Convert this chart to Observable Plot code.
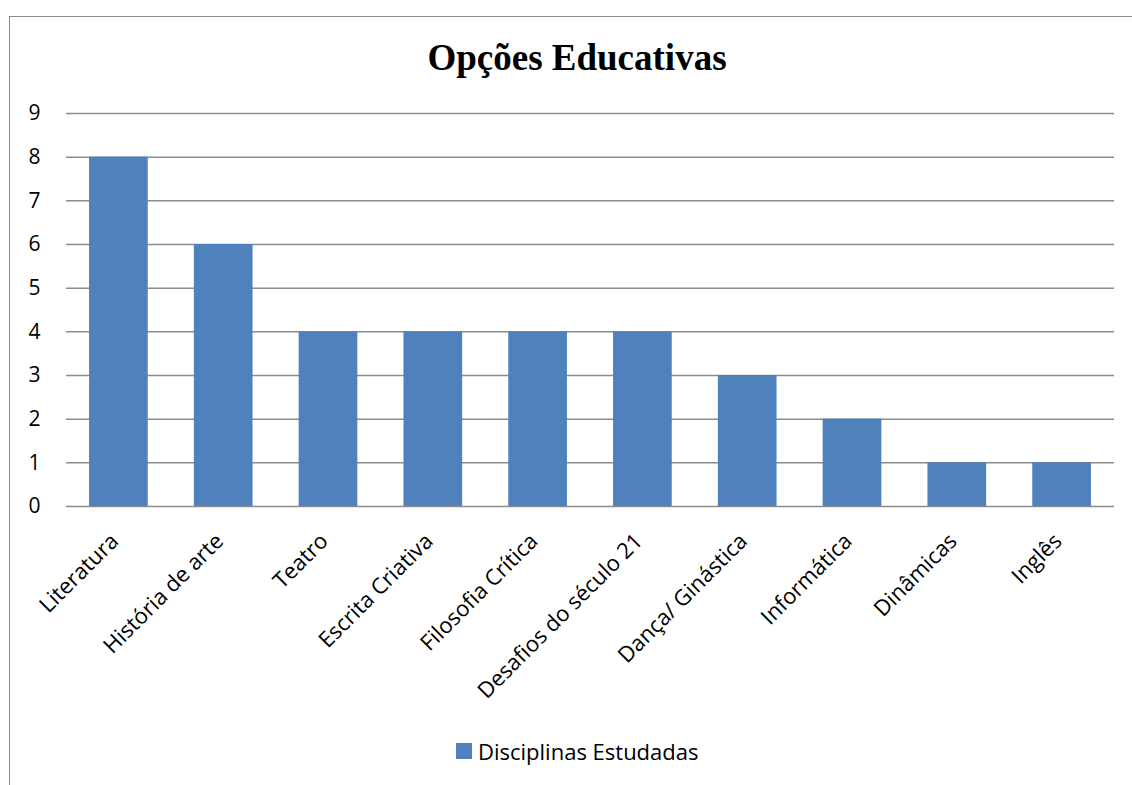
<!DOCTYPE html>
<html>
<head>
<meta charset="utf-8">
<script src="https://cdn.jsdelivr.net/npm/d3@7"></script>
<script src="https://cdn.jsdelivr.net/npm/@observablehq/plot@0.6"></script>
<style>
  html, body { margin: 0; padding: 0; background: #fff; }
  #page { position: relative; width: 1132px; height: 785px; overflow: hidden; }
  #frame { position: absolute; left: 9px; top: 16px; width: 1200px; height: 900px; border: 1.5px solid #8c8c8c; box-sizing: border-box; }
  #title { position: absolute; left: 0; width: 1154px; top: 36px; text-align: center;
           font-family: "Liberation Serif", "Times New Roman", serif; font-weight: bold; font-size: 37px; color: #000; }
  #chart { position: absolute; left: 0; top: 0; }
  #legend { position: absolute; left: 456px; top: 736px; font-family: "Open Sans", sans-serif; font-size: 22px; color: #000; display: flex; align-items: center; }
  #legend .sw { width: 16px; height: 16px; background: #4f81bd; margin-right: 6px; }
</style>
</head>
<body>
<div id="page">
  <div id="frame"></div>
  <div id="title">Opções Educativas</div>
  <div id="chart"></div>
  <div id="legend"><span class="sw"></span><span>Disciplinas Estudadas</span></div>
</div>
<script>
const categories = ["Literatura", "História de arte", "Teatro", "Escrita Criativa", "Filosofia Crítica",
  "Desafios do século 21", "Dança/ Ginástica", "Informática", "Dinâmicas", "Inglês"];
const values = [8, 6, 4, 4, 4, 4, 3, 2, 1, 1];
const yTicks = [0, 1, 2, 3, 4, 5, 6, 7, 8, 9];
const seriesName = "Disciplinas Estudadas";

const data = categories.map((c, i) => ({category: c, value: values[i]}));

const chart = Plot.plot({
  width: 1132,
  height: 730,
  marginLeft: 66,
  marginRight: 18,
  marginTop: 113,
  marginBottom: 224,
  style: {fontFamily: "'Open Sans', sans-serif", fontSize: "21px", color: "#000", background: "transparent"},
  x: {domain: categories, paddingInner: 0.44, paddingOuter: 0.22, round: false, label: null},
  y: {domain: [0, 9], ticks: yTicks, label: null},
  marks: [
    Plot.ruleY(yTicks, {stroke: "#8c8c8c", strokeWidth: 1.5}),
    Plot.barY(data, {x: "category", y: "value", fill: "#4f81bd", title: d => `${seriesName}: ${d.value}`}),
    Plot.axisY({ticks: yTicks, tickSize: 0, tickPadding: 26, tickFormat: d3.format("d"), label: null}),
    Plot.axisX({tickSize: 0, tickPadding: 31, dx: -4, tickRotate: -45, fontSize: 22, label: null})
  ]
});
document.getElementById("chart").appendChild(chart);
</script>
</body>
</html>
